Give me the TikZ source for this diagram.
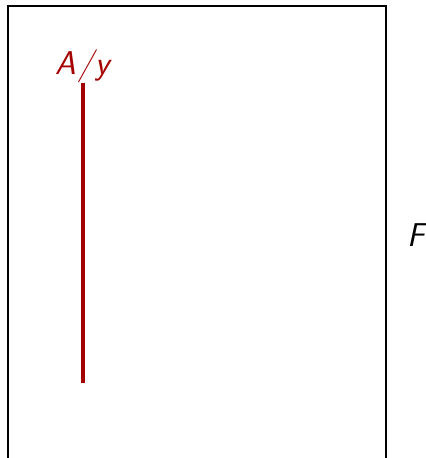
\documentclass[tikz,border=0pt]{standalone}
\usepackage{tikz}
\usetikzlibrary{positioning}
\definecolor{darkred}{RGB}{165,0,0}
\tikzset{
  lbl/.style={font=\fontsize{16.5}{18}\selectfont\sffamily\itshape, inner sep=1pt},
  bar/.style={darkred, line width=1.6pt}
}

\begin{document}
\begin{tikzpicture}[x=0.5pt,y=-0.5pt]
\useasboundingbox (0,0) rectangle (426,458);
\draw[line width=1pt] (8,462) -- (8,6) -- (386,6) -- (386,462);
\coordinate (top) at (83,83);
\coordinate (bot) at (83,383);
\draw[bar] (top) -- (bot);
\node[lbl,darkred,above=-1pt of top] (ay) {A\kern1pt/\kern1pt y};
\node[lbl] (F) at (416,235) {F};
\end{tikzpicture}
\end{document}
